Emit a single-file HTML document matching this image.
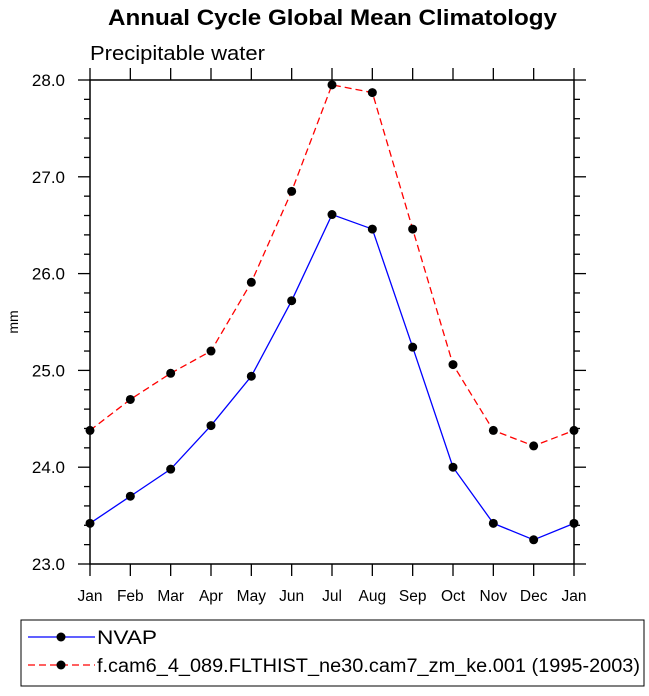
<!DOCTYPE html>
<html><head><meta charset="utf-8"><style>body{margin:0;background:#fff}svg{font-family:"Liberation Sans",sans-serif}</style></head>
<body>
<svg id="c" width="649" height="691">
<text x="108" y="25" font-size="22" font-weight="bold" textLength="449" lengthAdjust="spacingAndGlyphs">Annual Cycle Global Mean Climatology</text>
<text x="90" y="60" font-size="20" textLength="175" lengthAdjust="spacingAndGlyphs">Precipitable water</text>
<text x="18" y="322" font-size="14" text-anchor="middle" transform="rotate(-90 18 322)">mm</text>
<rect x="90" y="80" width="484" height="484" fill="none" stroke="#000" stroke-width="1.5"/>
<g id="ax"></g><g id="series"></g>
<rect x="21" y="620" width="623" height="66" fill="none" stroke="#000" stroke-width="1"/>
<g>
<line x1="28" y1="637" x2="95" y2="637" stroke="#0000ff" stroke-width="1.3"/><circle cx="61" cy="637" r="4.5"/>
<text x="97" y="644" font-size="19" textLength="60" lengthAdjust="spacingAndGlyphs">NVAP</text></g>
<g>
<line x1="28" y1="665" x2="95" y2="665" stroke="#ff0000" stroke-width="1.3" stroke-dasharray="7,4"/><circle cx="61" cy="665" r="4.5"/>
<text x="97" y="672" font-size="19" textLength="543" lengthAdjust="spacingAndGlyphs">f.cam6_4_089.FLTHIST_ne30.cam7_zm_ke.001 (1995-2003)</text></g>
</svg>
<script>
const months=["Jan","Feb","Mar","Apr","May","Jun","Jul","Aug","Sep","Oct","Nov","Dec","Jan"];
const nvap=[23.42,23.70,23.98,24.43,24.94,25.72,26.61,26.46,25.24,24.00,23.42,23.25,23.42];
const model=[24.38,24.70,24.97,25.20,25.91,26.85,27.95,27.87,26.46,25.06,24.38,24.22,24.38];
const yTicks=["23.0","24.0","25.0","26.0","27.0","28.0"];
const NS="http://www.w3.org/2000/svg";
const X0=90,X1=574,Y0=564,Y1=80,ymin=23,ymax=28;
const xs=i=>X0+(X1-X0)*i/(months.length-1);
const ys=v=>Y0-(v-ymin)/(ymax-ymin)*(Y0-Y1);
function mk(t,a,p){const e=document.createElementNS(NS,t);for(const k in a)e.setAttribute(k,a[k]);p.appendChild(e);return e;}
const ax=document.getElementById('ax');
months.forEach((m,i)=>{const x=xs(i);
 const t1=mk('line',{x1:x,y1:Y0,x2:x,y2:Y0+12,stroke:'#000','stroke-width':1.3},ax);
 
 
 mk('line',{x1:x,y1:Y1,x2:x,y2:Y1-12,stroke:'#000','stroke-width':1.3},ax);
 const tx=mk('text',{x:x,y:601,'text-anchor':'middle','font-size':15.5},ax);tx.textContent=m;
 
 
});
for(let v=ymin;v<=ymax+1e-9;v+=0.2){const y=ys(v);const major=Math.abs(v-Math.round(v))<1e-6;const L=major?12:6;
 mk('line',{x1:X0,y1:y,x2:X0-L,y2:y,stroke:'#000','stroke-width':1.3},ax);
 mk('line',{x1:X1,y1:y,x2:X1+L,y2:y,stroke:'#000','stroke-width':1.3},ax);}
yTicks.forEach(s=>{const tx=mk('text',{x:65,y:ys(parseFloat(s))+6,'text-anchor':'end','font-size':17},ax);tx.textContent=s;
 
 });
const sg=document.getElementById('series');
function draw(vals,col,dash,name){
 const g=mk('g',{},sg);
 
 
 const a={points:vals.map((v,i)=>xs(i)+','+ys(v)).join(' '),fill:'none',stroke:col,'stroke-width':1.3};
 if(dash)a['stroke-dasharray']='7,4';
 mk('polyline',a,g);
 vals.forEach((v,i)=>{const c=mk('circle',{cx:xs(i),cy:ys(v),r:4.5,fill:'#000'},g);
  
  });
}
draw(model,'#ff0000',true,'series-model');
draw(nvap,'#0000ff',false,'series-nvap');
</script>
</body></html>
